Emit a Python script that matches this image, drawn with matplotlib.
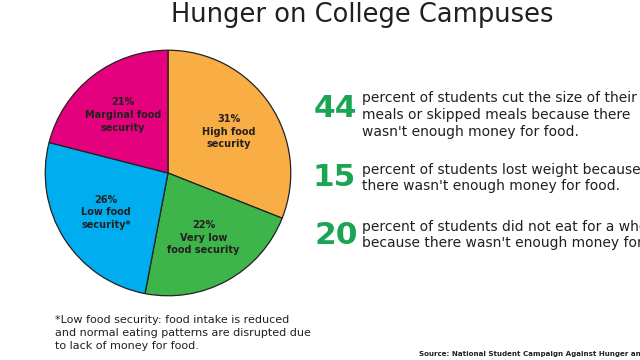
import numpy as np
import matplotlib.pyplot as plt

plt.rcParams["font.family"] = ["DejaVu Sans"]

# pie data (clockwise from top)
labels = ["High food\nsecurity", "Very low\nfood security", "Low food\nsecurity*", "Marginal food\nsecurity"]
shares = [31, 22, 26, 21]
colors = ["#F9AE45", "#3DB54A", "#00ADEF", "#E5007D"]

# stats on the right
stat_numbers = ["44", "15", "20"]
stat_texts = [
    "percent of students cut the size of their\nmeals or skipped meals because there\nwasn't enough money for food.",
    "percent of students lost weight because\nthere wasn't enough money for food.",
    "percent of students did not eat for a whole day\nbecause there wasn't enough money for food.",
]

GREEN = "#1AA552"
TXT = "#231F20"

fig = plt.figure(figsize=(6.4, 3.6), dpi=100)
fig.patch.set_facecolor("white")

ax = fig.add_axes([44 / 640, 1 - 297 / 360, 248 / 640, 248 / 360])
wedges, _ = ax.pie(shares, colors=colors, startangle=90, counterclock=False,
                   wedgeprops=dict(edgecolor="#222222", linewidth=0.9))
ax.set_aspect("equal")
ax.set_xlim(-1.01, 1.01)
ax.set_ylim(-1.01, 1.01)

for w, lab, s in zip(wedges, labels, shares):
    mid = np.deg2rad((w.theta1 + w.theta2) / 2)
    r = 0.6
    ax.text(r * np.cos(mid), r * np.sin(mid), f"{s}%\n{lab}", ha="center", va="center",
            fontsize=7.0, fontweight="bold", color=TXT, linespacing=1.35)

fig.text(362 / 640, 1 - 15 / 360, "Hunger on College Campuses", ha="center", va="center",
         fontsize=18.5, color=TXT)

num_y = [108, 178, 235]
txt_y = [115, 178, 235]
num_x = [357, 356, 358]
for n, t, ny, ty, x in zip(stat_numbers, stat_texts, num_y, txt_y, num_x):
    fig.text(x / 640, 1 - ny / 360, n, ha="right", va="center", fontsize=22.5,
             fontweight="bold", color=GREEN)
    fig.text(362 / 640, 1 - ty / 360, t, ha="left", va="center", fontsize=10,
             color=TXT, linespacing=1.25)

fig.text(55 / 640, 1 - 333 / 360,
         "*Low food security: food intake is reduced\nand normal eating patterns are disrupted due\nto lack of money for food.",
         ha="left", va="center", fontsize=8.0, color=TXT, linespacing=1.35)

fig.text(419 / 640, 1 - 354 / 360, "Source: National Student Campaign Against Hunger and Homelessness",
         ha="left", va="center", fontsize=5.1, fontweight="bold", color=TXT)

fig.savefig("out.png", dpi=100)
